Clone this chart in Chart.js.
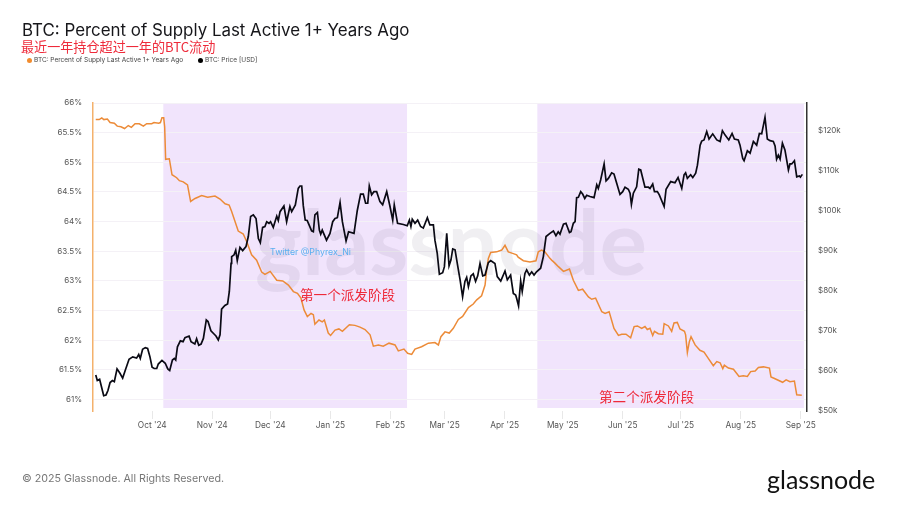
<!DOCTYPE html>
<html>
<head>
<meta charset="utf-8">
<script src="https://cdn.jsdelivr.net/npm/chart.js@4"></script>
<style>
  html, body { margin: 0; padding: 0; background: #fff; }
  #wrap { position: relative; width: 900px; height: 506px; overflow: hidden; font-family: Inter, sans-serif; }
  #wrap canvas { position: absolute; left: 0; top: 0; }
  .txt { position: absolute; white-space: nowrap; line-height: 1; }
  .cjk { font-family: "Noto Sans CJK SC", sans-serif; color: #ee2a3a; }
  .dot { position: absolute; width: 5px; height: 5px; border-radius: 50%; }
</style>
</head>
<body>
<div id="wrap">
  <canvas id="chart" width="900" height="506"></canvas>
  <div class="txt" style="left:22px;top:22px;font-size:16.9px;color:#16161a">BTC: Percent of Supply Last Active 1+ Years Ago</div>
  <div class="txt cjk" style="left:21px;top:40px;font-size:13.1px">最近一年持仓超过一年的BTC流动</div>
  <span class="dot" style="left:27px;top:58px;background:#f28c2e"></span>
  <div class="txt" style="left:34px;top:57px;font-size:6.5px;color:#444">BTC: Percent of Supply Last Active 1+ Years Ago</div>
  <span class="dot" style="left:198px;top:58px;background:#000"></span>
  <div class="txt" style="left:205px;top:57px;font-size:6.5px;color:#444">BTC: Price [USD]</div>
  <div class="txt" style="left:270px;top:248px;font-size:8.8px;color:#5aaef0">Twitter @Phyrex_Ni</div>
  <div class="txt cjk" style="left:300px;top:288px;font-size:13.6px">第一个派发阶段</div>
  <div class="txt cjk" style="left:599px;top:390px;font-size:13.6px">第二个派发阶段</div>
  <div class="txt" style="left:22px;top:474px;font-size:10.7px;color:#777">© 2025 Glassnode. All Rights Reserved.</div>
  <div class="txt" style="left:767px;top:467px;font-size:25px;color:#111;font-family:Lato,sans-serif">glassnode</div>
</div>
<script>
// x values are days since 1 Sep 2024
const monthTickDays = [30, 61, 91, 122, 153, 181, 212, 242, 273, 303, 334, 365];
const monthTickLabels = ["Oct '24", "Nov '24", "Dec '24", "Jan '25", "Feb '25", "Mar '25", "Apr '25", "May '25", "Jun '25", "Jul '25", "Aug '25", "Sep '25"];
const pctTicks = [61, 61.5, 62, 62.5, 63, 63.5, 64, 64.5, 65, 65.5, 66];
const priceTicks = [50, 60, 70, 80, 90, 100, 110, 120];
const bandStarts = [35.7, 228.9];
const bandEnds = [161.6, 366.6];

const pctDays = [0.8, 2.6, 3.9, 5, 6.8, 8.2, 10.4, 11.9, 13.8, 15.7, 17.6, 19.2, 21.1, 23.3, 25.4, 27.1, 29.7, 30.9, 33.3, 34.2, 35, 35.9, 36.4, 36.9, 38.8, 40.2, 42.6, 44, 46, 48.2, 49.8, 52.1, 55.5, 58.6, 62.4, 65, 67.6, 69.7, 71, 74.4, 77, 78.8, 81.3, 83.9,
  86.5, 88.2, 90.9, 94.3, 97.4, 100.3, 102.9, 105,
  106.8, 108.4, 110.1, 112, 113.2, 114, 116.1, 117.8, 118.9, 120.9, 122.1, 124.4, 126.4, 128.2, 131.8, 134.7, 137.3, 139.9, 142.5, 144.2, 146.8, 149.3, 152.3, 155.4, 157.1, 160, 161.9, 164, 165.7, 169.1, 172.6, 176, 177.8, 179.1, 181.2, 183.4, 185.5, 188.1, 190.3, 193.3, 195.8, 197.6, 200.1, 201.9, 202.7, 203.6, 204.8, 207.9, 210.5, 212.2, 213.9, 216.5, 218.2, 219, 221.7, 225.1, 228.2, 229.4, 231.1, 232.8, 235.4,
  236.3, 238, 239.8, 242.4, 245.5, 247.5, 250.1, 252.3, 255.3, 257, 259, 262.2, 263.9, 266, 268.5, 270.8, 272.5, 274.7, 277.1, 278.9, 280.6, 282.8, 284.5, 285.7, 287.1, 288.5, 289.4, 291.4, 293.7, 294.4, 296.6, 298.3, 299.5, 301.2, 302.6, 304.9, 305.5, 306.4, 307.4, 308.3, 310.4, 312.9, 315, 317.3, 319.8, 321.6, 323.3, 324.7, 325.5, 327.6, 330.2, 333.1, 335.3, 337.4, 339.1, 341.4, 343.1, 345.7, 348.8, 349.6, 351.7, 355.6, 357.4, 359.4, 361.7, 362.9, 365.5];
const pctValues = [65.72, 65.72, 65.75, 65.72, 65.73, 65.67, 65.66, 65.61, 65.6, 65.57, 65.62, 65.59, 65.65, 65.65, 65.61, 65.65, 65.65, 65.67, 65.66, 65.67, 65.75, 65.75, 65.6, 65.05, 65.06, 64.79, 64.74, 64.69, 64.67, 64.62, 64.34, 64.39, 64.44, 64.41, 64.43, 64.38, 64.3, 64.28, 64.17, 63.84, 63.79, 63.66, 63.44, 63.35,
  63.15, 63.11, 63.16, 63.01, 63, 62.93, 62.82, 62.79,
  62.71, 62.51, 62.4, 62.45, 62.43, 62.27, 62.34, 62.31, 62.34, 62.12, 62.08, 62.17, 62.19, 62.15, 62.26, 62.25, 62.22, 62.18, 62.09, 61.9, 61.92, 61.9, 61.95, 61.92, 61.82, 61.85, 61.78, 61.76, 61.85, 61.89, 61.95, 61.96, 61.92, 62.06, 62.14, 62.12, 62.2, 62.35, 62.4, 62.55, 62.61, 62.68, 62.75, 62.93, 63.18, 63.38, 63.48, 63.49, 63.52, 63.6, 63.49, 63.46, 63.44, 63.4, 63.34, 63.32, 63.34, 63.49, 63.52, 63.49, 63.38,
  63.35, 63.3, 63.24, 63.16, 63.2, 63.01, 62.84, 62.86, 62.73, 62.69, 62.71, 62.48, 62.45, 62.48, 62.2, 62.08, 62.1, 62.1, 62.04, 62.23, 62.24, 62.2, 62.23, 62.18, 62.2, 62.08, 62.15, 62.11, 62.1, 62.28, 62.24, 62.15, 62.29, 62.3, 62.19, 62.15, 62.09, 61.79, 61.97, 62.06, 61.92, 61.83, 61.8, 61.69, 61.57, 61.64, 61.62, 61.52, 61.58, 61.53, 61.51, 61.39, 61.4, 61.39, 61.47, 61.48, 61.54, 61.55, 61.53, 61.38, 61.35, 61.29, 61.33, 61.3, 61.31, 61.08, 61.07];

const priceDays = [0.8, 1.6, 2.8, 4.4, 4.9, 6.1, 7.1, 8.2, 9.4, 10.4, 11.8, 13.3, 14.7, 16.1, 18, 19.9, 21.9, 23, 23.8, 25, 26.4, 27.6, 28.8, 29.9, 31, 32.3, 33.1, 35, 36.7, 38, 39, 40.4, 41.4, 42.1, 43, 44.5, 45.9, 46.9, 49, 50, 52, 52.9, 54, 55.2, 56.4, 57.9, 58.8, 60.3, 61.9, 62.9, 64.1, 65, 65.8, 67.5, 68.9, 69.8, 70.7,
  71, 72.2, 73.1, 73.9, 75.3, 76.7, 78.4, 79.6, 80.8, 82.2, 83.6, 84.8, 85.8, 87, 88.2, 89.1, 90.3, 91.1, 92.5, 94.3, 95.1, 96, 98, 99.4, 101.1, 102, 103.9, 105.4,
  106.3, 107.2, 108, 109, 110, 111, 112.3, 113.2, 114, 115.3, 116.3, 117, 117.8, 120, 121.8, 123.2, 124.4, 125.6, 127, 128.2, 130.1, 131.4, 134.2, 135.9, 137.6, 139, 140.2, 141.3, 142.1, 143.3, 144.5, 145.9, 147.6, 149, 151.1, 152.8, 154.2, 155, 156.7, 159.7, 161.7, 162.8, 163.6, 164.3, 165.7, 167.1, 168.6, 170, 172.1, 173.4, 175.2, 176, 177.2, 178.3, 180, 180.9, 182.1, 183.3, 184.3, 185.2, 186.4, 187.7, 189, 190.3, 191.5, 192.4, 193.3, 194.6, 195.8, 197, 198.1, 199.3, 200.7, 201.9, 203.6, 204.8, 207, 208.2, 210, 212.2, 213.4, 215.1, 216.5, 217.7, 218.2, 219.2, 220.3, 221.1, 222.5, 223.4, 224.8, 226, 227.2, 228.5, 230.6, 232, 233.4, 235.4, 237.2, 238.5, 239.7,
  240.6, 242.4, 243.7, 245.5, 246.3, 247.5, 248.4, 249.2, 250.1, 251.3, 252.3, 253.4, 254.4, 256.1, 258.2, 259.6, 260.4, 261.6, 263.4, 264.4, 265.6, 267.3, 268.5, 269.9, 271.6, 273, 274.2, 275.9, 276.8, 277.5, 278.5, 280.2, 281.3, 282.3, 284.5, 286.3, 287.1, 288.5, 289.4, 290.9, 291.9, 294.4, 295.4, 297.8, 300, 301.6, 303.5, 304.7, 305.5, 306.4, 308.1, 309.2, 310.7, 311.6, 313, 313.8, 315, 316.4, 317.6, 319.5, 321.6, 323.3, 324.5, 325.9, 327.8, 329.5, 330.7, 332.7, 333.6, 335, 335.7, 337.4, 338.8, 340.5, 342.2, 343.6, 344.8, 346.5, 347.7, 349.1, 350.8, 351.7, 352.5, 353.4, 354.3, 355.5, 356.8, 358.6, 359.4, 360.3, 361.7, 362.9, 364.3, 364.8, 365.8];
const priceValues = [59, 57.6, 57.9, 54.8, 53.8, 54, 55.1, 57.1, 57.6, 57.3, 60.5, 59.4, 58.2, 60.2, 62.9, 63.5, 63.2, 64.1, 63.1, 65.4, 65.8, 65.6, 63.5, 60.9, 60.6, 60.6, 61.7, 62.6, 61.9, 60.5, 60.1, 62.7, 63.1, 62.7, 66, 67.5, 67.3, 68.3, 68.7, 67.3, 66.7, 68, 66.4, 66.7, 68.1, 72.7, 72.3, 70, 69.2, 68.7, 67.7, 69, 75.4, 76.3, 76.7, 79.8, 86.8,
  88.5, 88.9, 90.1, 87.5, 90.8, 90, 91, 93.5, 98.5, 98.9, 98, 93, 92, 95.8, 96, 97.2, 96.8, 97.2, 95.8, 98.6, 97.5, 99.7, 101.1, 97.2, 101, 99.7, 101.4, 105.5,
  106.1, 106.1, 101.2, 97.6, 97.5, 96.4, 94.9, 94.7, 98.9, 99.5, 95.1, 94.1, 95.1, 92.6, 94.3, 97.2, 98, 98.2, 102, 97.2, 92.4, 94.7, 94.3, 100, 104.1, 104.1, 101.8, 101.8, 106.1, 103.9, 104.7, 104.7, 102.2, 101.4, 104.7, 101, 97.6, 101.4, 96.8, 96.5, 96.2, 97.6, 96, 97.8, 96.8, 97.6, 96, 95.6, 98.2, 96.4, 96.4, 92.6, 89.3, 84.1, 84.5, 86, 94.3, 86.2, 87.7, 90.4, 90.2, 86.4, 82.7, 78.5, 82.3, 83.3, 81, 83.7, 84.2, 82.3, 83.7, 86.8, 83.7, 83.9, 87, 87.5, 86.8, 83.5, 82.4, 84.9, 82.7, 83.9, 79.3, 78.9, 78.1, 76.2, 82.4, 79.8, 84.3, 85.2, 83.9, 84.7, 83.9, 84.7, 85.6, 88.5, 93.5, 94.3, 94.9, 93.7, 94.7,
  94.1, 96.6, 96.8, 94.5, 94.7, 96.8, 97.2, 103.2, 103.3, 104.7, 104.1, 103, 103.8, 103.5, 103.2, 106.4, 105.5, 107.6, 111.6, 107.4, 108, 109.4, 109.1, 106.8, 104, 104.7, 105.8, 105.3, 104.3, 101.5, 104.3, 105.9, 110.3, 110.1, 105.8, 105.8, 105.5, 106.6, 104.7, 104.7, 103.9, 101, 105.3, 107.2, 106.9, 108.2, 105.5, 108.9, 109.4, 108, 108.9, 108.2, 109.3, 111.3, 116.3, 117.3, 117.6, 119.7, 117.8, 119.1, 117.6, 117.2, 119.9, 118.8, 117.6, 119.2, 117.8, 117.6, 116.3, 113, 112.4, 114.9, 114.3, 117.2, 116.3, 119.2, 119.1, 123.2, 117.8, 117.4, 117.2, 116.1, 112.8, 113.8, 112.8, 116.8, 115.1, 110.1, 111.6, 111.6, 112.4, 108.4, 108.6, 108.3, 109];

const zip = (xs, ys) => xs.map((x, i) => ({ x: x, y: ys[i] }));

// purple phases go under the grid, the big watermark goes under the lines
const backdrop = {
  id: 'backdrop',
  beforeDraw(chart) {
    const c = chart.ctx, a = chart.chartArea, sx = chart.scales.x;
    c.save();
    c.fillStyle = '#f1e4fc';
    bandStarts.forEach((s, i) => {
      const x0 = sx.getPixelForValue(s), x1 = sx.getPixelForValue(bandEnds[i]);
      c.fillRect(x0, a.top, x1 - x0, a.bottom - a.top - 3);
    });
    c.restore();
  },
  beforeDatasetsDraw(chart) {
    const c = chart.ctx;
    c.save();
    c.font = '700 89px Lato, sans-serif';
    c.fillStyle = 'rgba(110, 100, 130, 0.1)';
    c.textAlign = 'center';
    c.textBaseline = 'alphabetic';
    c.fillText('glassnode', 451, 275);
    c.restore();
  }
};

new Chart(document.getElementById('chart'), {
  type: 'line',
  data: {
    datasets: [
      {
        label: 'BTC: Price [USD]',
        data: zip(priceDays, priceValues),
        yAxisID: 'yPrice',
        borderColor: '#0a0a14',
        borderWidth: 1.7,
        pointRadius: 0,
        tension: 0,
        order: 1
      },
      {
        label: 'BTC: Percent of Supply Last Active 1+ Years Ago',
        data: zip(pctDays, pctValues),
        yAxisID: 'yPct',
        borderColor: '#ec8b38',
        borderWidth: 1.5,
        pointRadius: 0,
        tension: 0,
        order: 2
      }
    ]
  },
  options: {
    responsive: false,
    animation: false,
    layout: { autoPadding: false, padding: { left: 20, right: 33, top: 103, bottom: 60 } },
    plugins: { legend: { display: false }, tooltip: { enabled: false } },
    scales: {
      x: {
        type: 'linear',
        min: -0.62,
        max: 368.2,
        afterBuildTicks: (s) => { s.ticks = monthTickDays.map((d) => ({ value: d })); },
        afterFit: (s) => { s.height = 35; },
        grid: { drawOnChartArea: false, tickLength: 8, tickColor: '#e8e8e8' },
        border: { display: false },
        ticks: {
          autoSkip: false,
          maxRotation: 0,
          padding: 2,
          color: '#555',
          font: { family: 'Inter', size: 8.3 },
          callback: (v) => monthTickLabels[monthTickDays.indexOf(v)]
        }
      },
      yPct: {
        type: 'linear',
        position: 'left',
        min: 60.806,
        max: 66,
        afterBuildTicks: (s) => { s.ticks = pctTicks.map((v) => ({ value: v })); },
        afterFit: (s) => { s.width = 73; },
        grid: { color: '#f4f1f6', drawTicks: false },
        border: { color: '#f4b16c', width: 1.5 },
        ticks: {
          padding: 11,
          color: '#555',
          font: { family: 'Inter', size: 8 },
          callback: (v) => v + '%'
        }
      },
      yPrice: {
        type: 'linear',
        position: 'right',
        min: 50,
        max: 126.8,
        afterBuildTicks: (s) => { s.ticks = priceTicks.map((v) => ({ value: v })); },
        afterFit: (s) => { s.width = 60; },
        grid: { drawOnChartArea: false, drawTicks: false },
        border: { color: '#333', width: 1.5 },
        ticks: {
          padding: 11,
          color: '#555',
          font: { family: 'Inter', size: 8 },
          callback: (v) => '$' + v + 'k'
        }
      }
    }
  },
  plugins: [backdrop]
});
</script>
</body>
</html>
